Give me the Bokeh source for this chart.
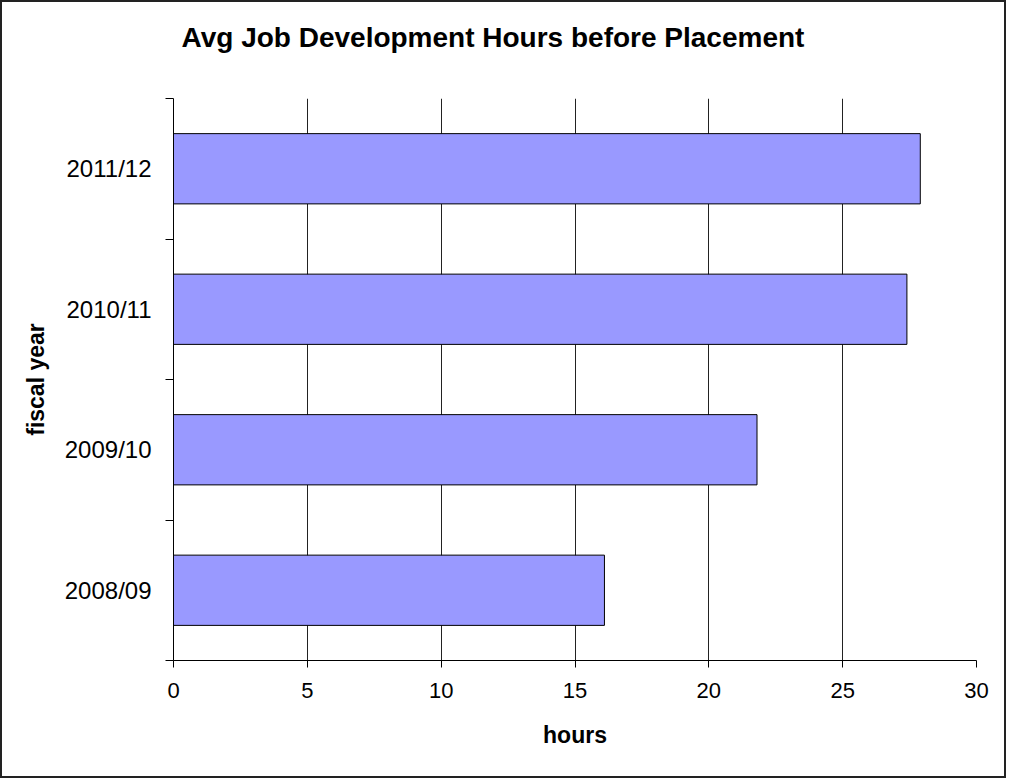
from bokeh.plotting import figure
from bokeh.models import Range1d, FixedTicker, ColumnDataSource, Title
from bokeh.embed import file_html
from bokeh.resources import INLINE

# data
years = ["2008/09", "2009/10", "2010/11", "2011/12"]
hours = [16.1, 21.8, 27.4, 27.9]
x_ticks = [0, 5, 10, 15, 20, 25, 30]

FONT = "Liberation Sans"

ypos = [i + 0.5 for i in range(len(years))]
src = ColumnDataSource(dict(y=ypos, right=hours, year=years))

p = figure(width=1006, height=778, output_backend="svg", toolbar_location=None,
           x_range=Range1d(0, 30), y_range=Range1d(0, len(years)),
           min_border_left=171, min_border_right=32, min_border_top=96,
           min_border_bottom=120,
           title="Avg Job Development Hours before Placement",
           styles={"border": "2px solid #222222"})

p.hbar(y="y", right="right", left=0, height=0.5, source=src,
       fill_color="#9999FF", line_color="#000000", line_width=1)

p.outline_line_color = None
p.background_fill_color = "white"
p.border_fill_color = "white"

# title
p.title.align = "left"
p.title.offset = 8
p.title.vertical_align = "bottom"
p.title.text_font = FONT
p.title.text_font_size = "28px"
p.title.text_font_style = "bold"
p.title.text_color = "#000000"
p.title.standoff = 0

# spacer between title and plot area
p.add_layout(Title(text=" ", text_font_size="10px", standoff=33), "above")

# x axis
xa = p.xaxis[0]
xa.ticker = FixedTicker(ticks=x_ticks)
xa.axis_label = "hours"
xa.axis_label_text_font = FONT
xa.axis_label_text_font_size = "23px"
xa.axis_label_text_font_style = "bold"
xa.axis_label_text_color = "#000000"
xa.axis_label_standoff = 21
xa.major_label_text_font = FONT
xa.major_label_text_font_size = "22px"
xa.major_label_text_color = "#000000"
xa.major_label_standoff = 15
xa.major_tick_out = 7
xa.major_tick_in = 0
xa.minor_tick_line_color = None
xa.axis_line_color = "#000000"
xa.major_tick_line_color = "#000000"

# y axis
ya = p.yaxis[0]
ya.ticker = FixedTicker(ticks=ypos, minor_ticks=list(range(len(years) + 1)))
ya.major_label_overrides = {y: lab for y, lab in zip(ypos, years)}
ya.axis_label = "fiscal year"
ya.axis_label_text_font = FONT
ya.axis_label_text_font_size = "23px"
ya.axis_label_text_font_style = "bold"
ya.axis_label_text_color = "#000000"
ya.axis_label_standoff = 13
ya.major_label_text_font = FONT
ya.major_label_text_font_size = "24px"
ya.major_label_text_color = "#000000"
ya.major_label_standoff = 14
ya.major_tick_line_color = None
ya.major_tick_out = 8
ya.major_tick_in = 0
ya.minor_tick_out = 8
ya.minor_tick_in = 0
ya.minor_tick_line_color = "#000000"
ya.axis_line_color = "#000000"

# grid
p.xgrid.ticker = FixedTicker(ticks=x_ticks)
p.xgrid.grid_line_color = "#222222"
p.xgrid.grid_line_width = 1
p.ygrid.grid_line_color = None

open("out.html", "w").write(file_html(p, INLINE))
